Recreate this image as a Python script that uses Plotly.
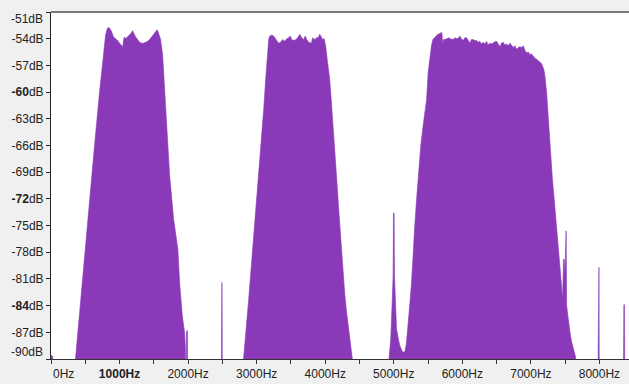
import plotly.graph_objects as go

# ---- spectrum data (frequency in Hz, level in dB); -100 = below floor ----
start_hz = [0, 25, 40, 343]
start_db = [-89.6, -89.7, -100, -100]

hump1_hz = [358, 460, 562, 635, 708, 752, 774, 796, 818, 840, 861, 883, 912, 942, 971,
            1000, 1029, 1048, 1058, 1073, 1088, 1117, 1146, 1168, 1190, 1212, 1234, 1263,
            1292, 1321, 1350, 1380, 1409, 1438, 1467, 1497, 1526, 1548, 1570, 1599, 1628,
            1657, 1686, 1730, 1789, 1851, 1876, 1916, 1949, 1961, 1967]
hump1_db = [-89.9, -80.9, -71.9, -66.0, -60.0, -56.4, -54.7, -53.6, -52.9, -52.7, -52.9,
            -53.2, -53.8, -54.0, -54.2, -54.5, -54.8, -54.9, -54.1, -53.8, -54.0, -53.8,
            -53.6, -53.4, -53.1, -53.5, -53.8, -54.1, -54.4, -54.5, -54.5, -54.4, -54.3,
            -54.1, -53.8, -53.5, -53.1, -53.0, -53.4, -54.1, -55.8, -59.7, -64.2, -69.3,
            -74.3, -77.7, -81.4, -85.2, -87.0, -88.9, -100]

spikes_a_hz = [1972, 1976, 1990, 1996, 2478, 2482, 2486, 2493, 2497, 2501, 2803]
spikes_a_db = [-100, -86.9, -86.8, -100, -100, -86.0, -81.4, -81.4, -86.0, -100, -100]

hump2_hz = [2810, 2883, 2942, 3000, 3058, 3102, 3131, 3153, 3175, 3190, 3219, 3248, 3270,
            3292, 3321, 3350, 3380, 3409, 3438, 3467, 3489, 3511, 3540, 3570, 3599, 3628,
            3657, 3686, 3708, 3730, 3759, 3796, 3818, 3847, 3876, 3905, 3920, 3942, 3964,
            3986, 4008, 4030, 4051, 4066, 4088, 4110, 4139, 4168, 4197, 4226, 4256, 4285,
            4314, 4343, 4372, 4394, 4402]
hump2_db = [-89.9, -83.3, -77.7, -72.1, -66.5, -62.0, -58.6, -55.8, -54.1, -53.7, -53.6,
            -53.7, -54.0, -54.2, -54.5, -54.4, -54.1, -54.3, -54.0, -53.9, -53.7, -54.1,
            -54.2, -54.1, -53.9, -53.5, -53.9, -54.1, -53.7, -54.1, -54.4, -54.5, -53.9,
            -54.1, -53.9, -53.8, -53.5, -53.8, -54.1, -54.0, -54.9, -56.4, -57.7, -58.6,
            -60.9, -63.7, -66.5, -69.8, -73.2, -76.5, -79.9, -82.7, -84.9, -87.0, -88.6,
            -89.9, -100]

hump3_hz = [4920, 4931, 4956, 4978, 4990, 4996, 5005, 5010, 5040, 5066, 5088, 5127, 5161,
            5183, 5209, 5234, 5259, 5282, 5307, 5332, 5365, 5395, 5439, 5478, 5501, 5526,
            5551, 5570, 5599, 5628, 5647, 5672, 5697, 5705, 5711, 5723, 5745, 5774, 5803,
            5818, 5847, 5866, 5891, 5920, 5949, 5964, 5986, 6012, 6037, 6062, 6088, 6110,
            6132, 6158, 6183, 6208, 6234, 6256, 6278, 6304, 6329, 6354, 6373, 6402, 6431,
            6460, 6500, 6526, 6548, 6570, 6595, 6621, 6646, 6672, 6694, 6716, 6742, 6767,
            6792, 6818, 6840, 6862, 6888, 6913, 6938, 6964, 6986, 7008, 7034, 7059, 7084,
            7110, 7132, 7154, 7171, 7190, 7205, 7220, 7230, 7241, 7263, 7292, 7314, 7341,
            7376, 7402, 7424, 7446, 7463, 7475, 7486, 7496, 7507, 7514, 7521, 7540, 7570,
            7592, 7618, 7653, 7660]
hump3_db = [-100, -89.9, -87.7, -83.3, -80.7, -73.6, -73.6, -80.7, -86.6, -87.7, -88.5,
            -89.2, -89.2, -88.3, -86.3, -83.8, -81.4, -77.7, -74.9, -72.1, -68.7, -65.9,
            -63.1, -60.9, -57.8, -56.0, -54.7, -54.1, -53.8, -53.6, -53.5, -53.4, -53.3,
            -53.5, -54.7, -54.1, -54.1, -54.0, -53.9, -54.0, -54.1, -54.1, -53.9, -54.0,
            -53.9, -53.7, -54.0, -54.2, -53.9, -53.9, -54.2, -54.5, -54.1, -54.1, -54.2,
            -54.2, -54.4, -54.3, -54.6, -54.4, -54.6, -54.3, -54.7, -54.5, -54.6, -54.4,
            -54.3, -54.7, -54.9, -54.5, -54.4, -54.7, -54.6, -54.8, -54.5, -54.7, -55.0,
            -54.8, -55.2, -55.0, -54.9, -55.0, -54.8, -55.3, -55.6, -55.5, -55.8, -55.7,
            -56.0, -56.2, -56.3, -56.5, -56.7, -56.8, -57.1, -57.5, -58.2, -59.2, -60.1,
            -61.4, -64.2, -67.6, -69.8, -72.1, -75.8, -77.7, -79.6, -81.6, -83.3, -78.8,
            -78.8, -80.5, -75.6, -75.6, -84.0, -85.5, -87.0, -88.0, -88.9, -89.8, -100]

spikes_b_hz = [7978, 7982, 7985, 7993, 7996, 8000, 8343, 8347, 8356, 8364, 8370, 8375, 8431]
spikes_b_db = [-100, -88.3, -79.7, -79.7, -88.3, -100, -100, -86.2, -83.9, -83.9, -86.2, -100, -100]

freq_hz = start_hz + hump1_hz + spikes_a_hz + hump2_hz + hump3_hz + spikes_b_hz
level_db = start_db + hump1_db + spikes_a_db + hump2_db + hump3_db + spikes_b_db

floor_db = -100
x_range = [0, 8431]
y_range = [-90, -51]

x_tick_vals = list(range(0, 8001, 500))
x_tick_text = ["", "", "<b>1000Hz</b>", "", "2000Hz", "", "3000Hz", "", "4000Hz", "",
               "5000Hz", "", "6000Hz", "", "7000Hz", "", "8000Hz"]
y_tick_vals = [-51, -54, -57, -60, -63, -66, -69, -72, -75, -78, -81, -84, -87, -90]
y_tick_text = ["", "-54dB", "-57dB", "<b>-60</b>dB", "-63dB", "-66dB", "-69dB",
               "<b>-72</b>dB", "-75dB", "-78dB", "-81dB", "<b>-84</b>dB", "-87dB", ""]

PURPLE = "#8a3ab9"
FONT = dict(family="Arial, Liberation Sans, sans-serif", size=12, color="#222222")

fig = go.Figure()
fig.add_trace(go.Scatter(x=[x_range[0], x_range[1]], y=[floor_db, floor_db], mode="lines",
                         line=dict(width=0, color=PURPLE), hoverinfo="skip", showlegend=False))
fig.add_trace(go.Scatter(x=freq_hz, y=level_db, mode="lines", fill="tonexty",
                         fillcolor=PURPLE, line=dict(color=PURPLE, width=0.6),
                         showlegend=False))

fig.update_layout(
    width=629, height=384,
    margin=dict(l=51, r=0, t=12, b=25, autoexpand=False),
    paper_bgcolor="#f0f0f0", plot_bgcolor="#ffffff",
    font=FONT,
    xaxis=dict(range=x_range, showgrid=False, zeroline=False, showline=True,
               linecolor="#333333", linewidth=1, ticks="outside", ticklen=4,
               tickcolor="#333333", tickvals=x_tick_vals, ticktext=x_tick_text,
               tickfont=FONT, automargin=False),
    yaxis=dict(range=y_range, showgrid=False, zeroline=False, showline=True,
               linecolor="#222222", linewidth=1, ticks="outside", ticklen=4,
               tickcolor="#222222", tickvals=y_tick_vals, ticktext=y_tick_text,
               tickfont=FONT, automargin=False),
    shapes=[dict(type="line", xref="paper", yref="paper", x0=0, x1=1, y0=1, y1=1,
                 line=dict(color="#7a7a7a", width=2))],
    annotations=[
        dict(text="-51dB", xref="paper", x=0, xanchor="right", xshift=-6,
             yref="y", y=-51, yanchor="middle", yshift=-7, showarrow=False, font=FONT),
        dict(text="-90dB", xref="paper", x=0, xanchor="right", xshift=-6,
             yref="y", y=-90, yanchor="middle", yshift=7, showarrow=False, font=FONT),
        dict(text="0Hz", xref="x", x=0, xanchor="left", xshift=0,
             yref="paper", y=0, yanchor="top", yshift=-6, showarrow=False, font=FONT),
    ],
)

fig.write_html("out.html", config={"displayModeBar": False},
               post_script="document.body.style.margin='0';document.body.style.background='#f0f0f0';")
